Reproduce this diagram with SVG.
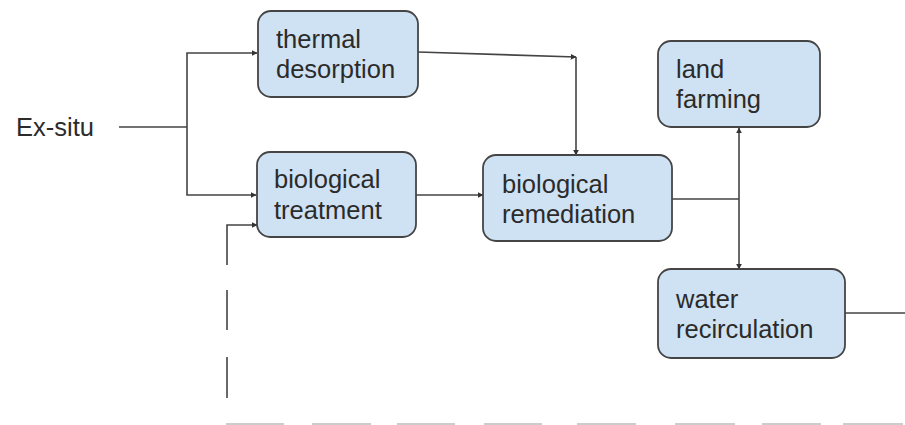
<svg xmlns="http://www.w3.org/2000/svg" width="905" height="425" viewBox="0 0 905 425">
<defs>
<style>
.node rect{fill:#cfe2f3;stroke:#454545;stroke-width:1.8}
text{font-family:"Liberation Sans",Arial,sans-serif;font-size:25.5px;fill:#2b2b2b}
.c{fill:none;stroke:#444;stroke-width:1.6}
.d{fill:none;stroke:#cccccc;stroke-width:2}
</style>
<marker id="a" viewBox="0 0 10 10" refX="9" refY="5" markerWidth="6" markerHeight="6" orient="auto" markerUnits="userSpaceOnUse">
<path d="M0,0L10,5L0,10z" fill="#333"/>
</marker>
</defs>
<rect width="905" height="425" fill="#fff"/>
<g id="connectors">
<path class="c" d="M119,127H187"/>
<path class="c" d="M187,127V53H257" marker-end="url(#a)"/>
<path class="c" d="M187,127V195H256" marker-end="url(#a)"/>
<path class="c" d="M418,52L576,57" marker-end="url(#a)"/>
<path class="c" d="M576,57V155" marker-end="url(#a)"/>
<path class="c" d="M416,195H483" marker-end="url(#a)"/>
<path class="c" d="M672,199H739"/>
<path class="c" d="M739,199V128" marker-end="url(#a)"/>
<path class="c" d="M739,199V269" marker-end="url(#a)"/>
<path class="c" d="M845,313H905"/>
<path class="c" d="M227,265V225H257" marker-end="url(#a)"/>
<path class="c" d="M227,290V330M227,357V398"/>
<path class="d" d="M226,424H284M312,424H371M397,424H455M484,424H542M577,424H636M675,424H735M762,424H821M843,424H903"/>
</g>
<text id="exsitu" x="16" y="136">Ex-situ</text>
<g id="thermal" class="node">
<rect x="258" y="11" width="160" height="86" rx="13"/>
<text x="276" y="48">thermal</text>
<text x="276" y="78">desorption</text>
</g>
<g id="biotreat" class="node">
<rect x="257" y="152" width="159" height="85" rx="13"/>
<text x="274" y="188">biological</text>
<text x="274" y="219">treatment</text>
</g>
<g id="bioremed" class="node">
<rect x="483" y="155" width="189" height="86" rx="13"/>
<text x="502" y="193">biological</text>
<text x="502" y="223">remediation</text>
</g>
<g id="land" class="node">
<rect x="658" y="41" width="162" height="86" rx="13"/>
<text x="676" y="78">land</text>
<text x="676" y="108">farming</text>
</g>
<g id="water" class="node">
<rect x="658" y="269" width="187" height="89" rx="13"/>
<text x="676" y="308">water</text>
<text x="676" y="338">recirculation</text>
</g>
</svg>
